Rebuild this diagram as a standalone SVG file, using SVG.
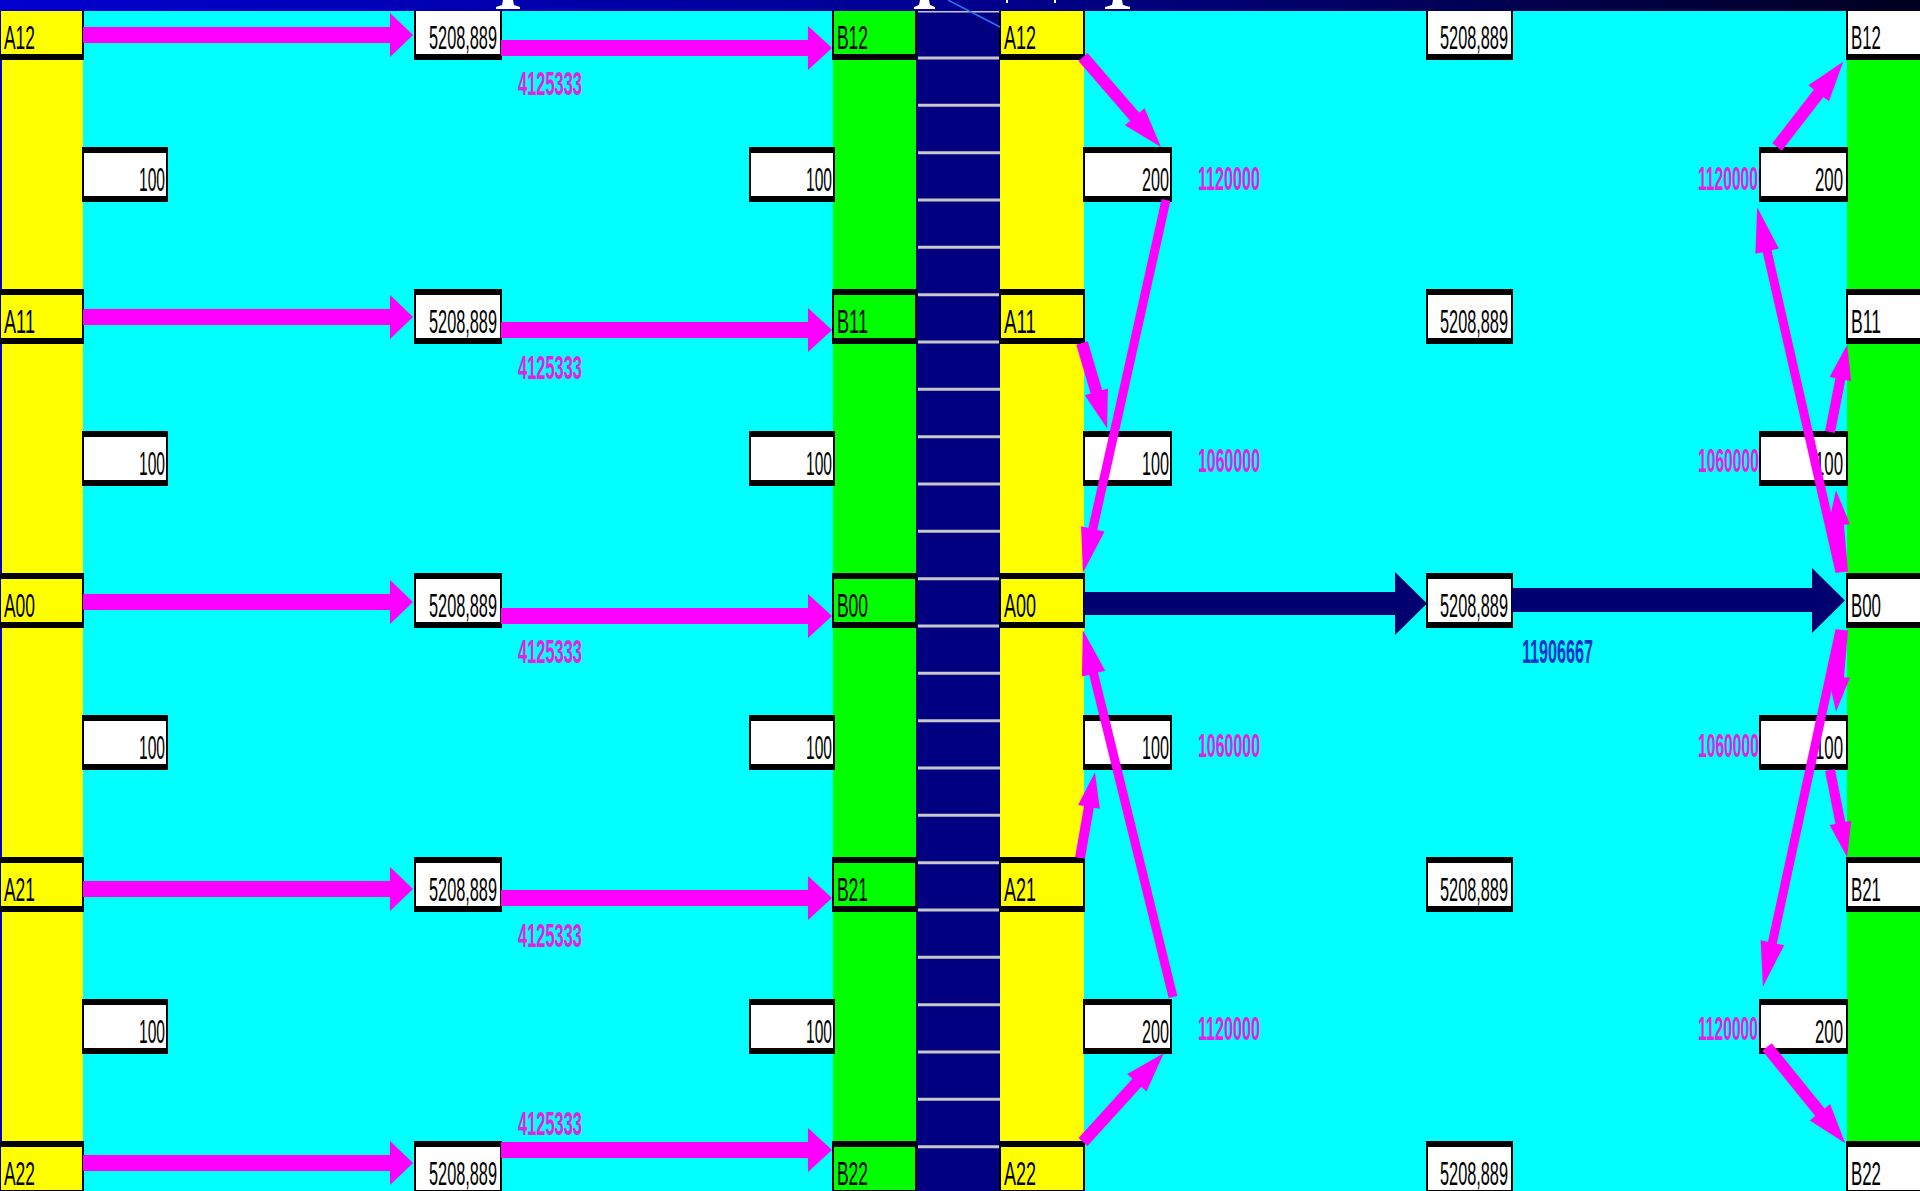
<svg xmlns="http://www.w3.org/2000/svg" width="1920" height="1191" viewBox="0 0 1920 1191">
<defs>
<linearGradient id="title" x1="0" y1="0" x2="1" y2="0">
<stop offset="0" stop-color="#0000d0"/>
<stop offset="0.5" stop-color="#000090"/>
<stop offset="1" stop-color="#000020"/>
</linearGradient>
<style>
.t{font-family:"Liberation Sans",Arial,sans-serif;font-size:33px;fill:#000}
.m{font-family:"Liberation Sans",Arial,sans-serif;font-size:34px;font-weight:bold;fill:#e61ee6}
.b{font-family:"Liberation Sans",Arial,sans-serif;font-size:34px;font-weight:bold;fill:#0033cc}
.bx{stroke:#000;stroke-width:2}
.bd{stroke:#000;stroke-width:5;fill:none}
.w{fill:#ffffff}
.y{fill:#ffff00}
.g{fill:#00ff00}
.ar{fill:#ff00ff}
.nv{fill:#000070}
.gl{stroke:#c8c8c8;stroke-width:3;fill:none}
</style>
</defs>
<g id="background">
<rect x="0" y="0" width="1920" height="1191" fill="#00ffff"/>
<rect x="0" y="0" width="83" height="1191" class="y"/>
<rect x="0" y="0" width="2" height="1191" fill="#0000c0"/>
<rect x="833" y="0" width="83" height="1191" class="g"/>
<rect x="916" y="0" width="84" height="1191" fill="#000080"/>
<rect x="1000" y="0" width="84" height="1191" class="y"/>
<rect x="1847" y="0" width="73" height="1191" class="g"/>
<path class="gl" d="M918 11H1000M918 58H1000M918 105.3H1000M918 152.7H1000M918 200H1000M918 247.3H1000M918 294.7H1000M918 342H1000M918 389.3H1000M918 436.7H1000M918 484H1000M918 531.3H1000M918 578.7H1000M918 626H1000M918 673.3H1000M918 720.7H1000M918 768H1000M918 815.3H1000M918 862.7H1000M918 910H1000M918 957.3H1000M918 1004.7H1000M918 1052H1000M918 1099.3H1000M918 1146.7H1000"/>
</g>

<!-- left panel A labels -->
<g id="L-A12"><rect x="0" y="6" width="83" height="53" class="y bx"/><path class="bd" d="M0 8.5h83M0 56.5h83"/><text class="t" x="4" y="49" textLength="31" lengthAdjust="spacingAndGlyphs">A12</text></g>
<g id="L-A11"><rect x="0" y="290" width="83" height="53" class="y bx"/><path class="bd" d="M0 292.5h83M0 340.5h83"/><text class="t" x="4" y="333" textLength="31" lengthAdjust="spacingAndGlyphs">A11</text></g>
<g id="L-A00"><rect x="0" y="574" width="83" height="53" class="y bx"/><path class="bd" d="M0 576.5h83M0 624.5h83"/><text class="t" x="4" y="617" textLength="31" lengthAdjust="spacingAndGlyphs">A00</text></g>
<g id="L-A21"><rect x="0" y="858" width="83" height="53" class="y bx"/><path class="bd" d="M0 860.5h83M0 908.5h83"/><text class="t" x="4" y="901" textLength="31" lengthAdjust="spacingAndGlyphs">A21</text></g>
<g id="L-A22"><rect x="0" y="1142" width="83" height="53" class="y bx"/><path class="bd" d="M0 1144.5h83M0 1192.5h83"/><text class="t" x="4" y="1185" textLength="31" lengthAdjust="spacingAndGlyphs">A22</text></g>

<!-- left panel 100 boxes -->
<g id="L-c1"><rect x="83" y="148" width="84" height="53" class="w bx"/><path class="bd" d="M83 150.5h84M83 198.5h84"/><text class="t" x="139" y="191" textLength="26" lengthAdjust="spacingAndGlyphs">100</text></g>
<g id="L-c2"><rect x="83" y="432" width="84" height="53" class="w bx"/><path class="bd" d="M83 434.5h84M83 482.5h84"/><text class="t" x="139" y="475" textLength="26" lengthAdjust="spacingAndGlyphs">100</text></g>
<g id="L-c3"><rect x="83" y="716" width="84" height="53" class="w bx"/><path class="bd" d="M83 718.5h84M83 766.5h84"/><text class="t" x="139" y="759" textLength="26" lengthAdjust="spacingAndGlyphs">100</text></g>
<g id="L-c4"><rect x="83" y="1000" width="84" height="53" class="w bx"/><path class="bd" d="M83 1002.5h84M83 1050.5h84"/><text class="t" x="139" y="1043" textLength="26" lengthAdjust="spacingAndGlyphs">100</text></g>

<!-- left panel 5208,889 boxes -->
<g id="L-m1"><rect x="415" y="6" width="86" height="53" class="w bx"/><path class="bd" d="M415 8.5h86M415 56.5h86"/><text class="t" x="429" y="49" textLength="68" lengthAdjust="spacingAndGlyphs">5208,889</text></g>
<g id="L-m2"><rect x="415" y="290" width="86" height="53" class="w bx"/><path class="bd" d="M415 292.5h86M415 340.5h86"/><text class="t" x="429" y="333" textLength="68" lengthAdjust="spacingAndGlyphs">5208,889</text></g>
<g id="L-m3"><rect x="415" y="574" width="86" height="53" class="w bx"/><path class="bd" d="M415 576.5h86M415 624.5h86"/><text class="t" x="429" y="617" textLength="68" lengthAdjust="spacingAndGlyphs">5208,889</text></g>
<g id="L-m4"><rect x="415" y="858" width="86" height="53" class="w bx"/><path class="bd" d="M415 860.5h86M415 908.5h86"/><text class="t" x="429" y="901" textLength="68" lengthAdjust="spacingAndGlyphs">5208,889</text></g>
<g id="L-m5"><rect x="415" y="1142" width="86" height="53" class="w bx"/><path class="bd" d="M415 1144.5h86M415 1192.5h86"/><text class="t" x="429" y="1185" textLength="68" lengthAdjust="spacingAndGlyphs">5208,889</text></g>

<!-- left panel right-side 100 boxes -->
<g id="L-d1"><rect x="750" y="148" width="84" height="53" class="w bx"/><path class="bd" d="M750 150.5h84M750 198.5h84"/><text class="t" x="806" y="191" textLength="26" lengthAdjust="spacingAndGlyphs">100</text></g>
<g id="L-d2"><rect x="750" y="432" width="84" height="53" class="w bx"/><path class="bd" d="M750 434.5h84M750 482.5h84"/><text class="t" x="806" y="475" textLength="26" lengthAdjust="spacingAndGlyphs">100</text></g>
<g id="L-d3"><rect x="750" y="716" width="84" height="53" class="w bx"/><path class="bd" d="M750 718.5h84M750 766.5h84"/><text class="t" x="806" y="759" textLength="26" lengthAdjust="spacingAndGlyphs">100</text></g>
<g id="L-d4"><rect x="750" y="1000" width="84" height="53" class="w bx"/><path class="bd" d="M750 1002.5h84M750 1050.5h84"/><text class="t" x="806" y="1043" textLength="26" lengthAdjust="spacingAndGlyphs">100</text></g>

<!-- left panel B labels -->
<g id="L-B12"><rect x="833" y="6" width="83" height="53" class="g bx"/><path class="bd" d="M833 8.5h83M833 56.5h83"/><text class="t" x="837" y="49" textLength="31" lengthAdjust="spacingAndGlyphs">B12</text></g>
<g id="L-B11"><rect x="833" y="290" width="83" height="53" class="g bx"/><path class="bd" d="M833 292.5h83M833 340.5h83"/><text class="t" x="837" y="333" textLength="31" lengthAdjust="spacingAndGlyphs">B11</text></g>
<g id="L-B00"><rect x="833" y="574" width="83" height="53" class="g bx"/><path class="bd" d="M833 576.5h83M833 624.5h83"/><text class="t" x="837" y="617" textLength="31" lengthAdjust="spacingAndGlyphs">B00</text></g>
<g id="L-B21"><rect x="833" y="858" width="83" height="53" class="g bx"/><path class="bd" d="M833 860.5h83M833 908.5h83"/><text class="t" x="837" y="901" textLength="31" lengthAdjust="spacingAndGlyphs">B21</text></g>
<g id="L-B22"><rect x="833" y="1142" width="83" height="53" class="g bx"/><path class="bd" d="M833 1144.5h83M833 1192.5h83"/><text class="t" x="837" y="1185" textLength="31" lengthAdjust="spacingAndGlyphs">B22</text></g>

<!-- right panel A labels -->
<g id="R-A12"><rect x="1000" y="6" width="84" height="53" class="y bx"/><path class="bd" d="M1000 8.5h84M1000 56.5h84"/><text class="t" x="1004" y="49" textLength="32" lengthAdjust="spacingAndGlyphs">A12</text></g>
<g id="R-A11"><rect x="1000" y="290" width="84" height="53" class="y bx"/><path class="bd" d="M1000 292.5h84M1000 340.5h84"/><text class="t" x="1004" y="333" textLength="32" lengthAdjust="spacingAndGlyphs">A11</text></g>
<g id="R-A00"><rect x="1000" y="574" width="84" height="53" class="y bx"/><path class="bd" d="M1000 576.5h84M1000 624.5h84"/><text class="t" x="1004" y="617" textLength="32" lengthAdjust="spacingAndGlyphs">A00</text></g>
<g id="R-A21"><rect x="1000" y="858" width="84" height="53" class="y bx"/><path class="bd" d="M1000 860.5h84M1000 908.5h84"/><text class="t" x="1004" y="901" textLength="32" lengthAdjust="spacingAndGlyphs">A21</text></g>
<g id="R-A22"><rect x="1000" y="1142" width="84" height="53" class="y bx"/><path class="bd" d="M1000 1144.5h84M1000 1192.5h84"/><text class="t" x="1004" y="1185" textLength="32" lengthAdjust="spacingAndGlyphs">A22</text></g>

<!-- right panel left-side boxes -->
<g id="R-c1"><rect x="1084" y="148" width="87" height="53" class="w bx"/><path class="bd" d="M1084 150.5h87M1084 198.5h87"/><text class="t" x="1142" y="191" textLength="27" lengthAdjust="spacingAndGlyphs">200</text></g>
<g id="R-c2"><rect x="1084" y="432" width="87" height="53" class="w bx"/><path class="bd" d="M1084 434.5h87M1084 482.5h87"/><text class="t" x="1142" y="475" textLength="27" lengthAdjust="spacingAndGlyphs">100</text></g>
<g id="R-c3"><rect x="1084" y="716" width="87" height="53" class="w bx"/><path class="bd" d="M1084 718.5h87M1084 766.5h87"/><text class="t" x="1142" y="759" textLength="27" lengthAdjust="spacingAndGlyphs">100</text></g>
<g id="R-c4"><rect x="1084" y="1000" width="87" height="53" class="w bx"/><path class="bd" d="M1084 1002.5h87M1084 1050.5h87"/><text class="t" x="1142" y="1043" textLength="27" lengthAdjust="spacingAndGlyphs">200</text></g>

<!-- right panel center boxes -->
<g id="R-m1"><rect x="1427" y="6" width="85" height="53" class="w bx"/><path class="bd" d="M1427 8.5h85M1427 56.5h85"/><text class="t" x="1440" y="49" textLength="68" lengthAdjust="spacingAndGlyphs">5208,889</text></g>
<g id="R-m2"><rect x="1427" y="290" width="85" height="53" class="w bx"/><path class="bd" d="M1427 292.5h85M1427 340.5h85"/><text class="t" x="1440" y="333" textLength="68" lengthAdjust="spacingAndGlyphs">5208,889</text></g>
<g id="R-m3"><rect x="1427" y="574" width="85" height="53" class="w bx"/><path class="bd" d="M1427 576.5h85M1427 624.5h85"/><text class="t" x="1440" y="617" textLength="68" lengthAdjust="spacingAndGlyphs">5208,889</text></g>
<g id="R-m4"><rect x="1427" y="858" width="85" height="53" class="w bx"/><path class="bd" d="M1427 860.5h85M1427 908.5h85"/><text class="t" x="1440" y="901" textLength="68" lengthAdjust="spacingAndGlyphs">5208,889</text></g>
<g id="R-m5"><rect x="1427" y="1142" width="85" height="53" class="w bx"/><path class="bd" d="M1427 1144.5h85M1427 1192.5h85"/><text class="t" x="1440" y="1185" textLength="68" lengthAdjust="spacingAndGlyphs">5208,889</text></g>

<!-- right panel right-side boxes -->
<g id="R-d1"><rect x="1760" y="148" width="87" height="53" class="w bx"/><path class="bd" d="M1760 150.5h87M1760 198.5h87"/><text class="t" x="1815" y="191" textLength="28" lengthAdjust="spacingAndGlyphs">200</text></g>
<g id="R-d2"><rect x="1760" y="432" width="87" height="53" class="w bx"/><path class="bd" d="M1760 434.5h87M1760 482.5h87"/><text class="t" x="1815" y="475" textLength="28" lengthAdjust="spacingAndGlyphs">100</text></g>
<g id="R-d3"><rect x="1760" y="716" width="87" height="53" class="w bx"/><path class="bd" d="M1760 718.5h87M1760 766.5h87"/><text class="t" x="1815" y="759" textLength="28" lengthAdjust="spacingAndGlyphs">100</text></g>
<g id="R-d4"><rect x="1760" y="1000" width="87" height="53" class="w bx"/><path class="bd" d="M1760 1002.5h87M1760 1050.5h87"/><text class="t" x="1815" y="1043" textLength="28" lengthAdjust="spacingAndGlyphs">200</text></g>

<!-- right panel B labels -->
<g id="R-B12"><rect x="1847" y="6" width="80" height="53" class="w bx"/><path class="bd" d="M1847 8.5h80M1847 56.5h80"/><text class="t" x="1851" y="49" textLength="30" lengthAdjust="spacingAndGlyphs">B12</text></g>
<g id="R-B11"><rect x="1847" y="290" width="80" height="53" class="w bx"/><path class="bd" d="M1847 292.5h80M1847 340.5h80"/><text class="t" x="1851" y="333" textLength="30" lengthAdjust="spacingAndGlyphs">B11</text></g>
<g id="R-B00"><rect x="1847" y="574" width="80" height="53" class="w bx"/><path class="bd" d="M1847 576.5h80M1847 624.5h80"/><text class="t" x="1851" y="617" textLength="30" lengthAdjust="spacingAndGlyphs">B00</text></g>
<g id="R-B21"><rect x="1847" y="858" width="80" height="53" class="w bx"/><path class="bd" d="M1847 860.5h80M1847 908.5h80"/><text class="t" x="1851" y="901" textLength="30" lengthAdjust="spacingAndGlyphs">B21</text></g>
<g id="R-B22"><rect x="1847" y="1142" width="80" height="53" class="w bx"/><path class="bd" d="M1847 1144.5h80M1847 1192.5h80"/><text class="t" x="1851" y="1185" textLength="30" lengthAdjust="spacingAndGlyphs">B22</text></g>

<g id="connectors">
<!-- left panel: A -> 5208,889 -->
<polygon class="ar" points="83,27 390,27 390,13 413,35 390,57 390,43 83,43"/>
<polygon class="ar" points="83,309 390,309 390,295 413,317 390,339 390,325 83,325"/>
<polygon class="ar" points="83,594 390,594 390,580 413,602 390,624 390,610 83,610"/>
<polygon class="ar" points="83,881 390,881 390,867 413,889 390,911 390,897 83,897"/>
<polygon class="ar" points="83,1155 390,1155 390,1141 413,1163 390,1185 390,1171 83,1171"/>
<!-- left panel: 5208,889 -> B -->
<polygon class="ar" points="501,40 808,40 808,26 832,48 808,70 808,56 501,56"/>
<polygon class="ar" points="501,322 808,322 808,308 832,330 808,352 808,338 501,338"/>
<polygon class="ar" points="501,608 808,608 808,594 832,616 808,638 808,624 501,624"/>
<polygon class="ar" points="501,890 808,890 808,876 832,898 808,920 808,906 501,906"/>
<polygon class="ar" points="501,1142 808,1142 808,1128 832,1150 808,1172 808,1158 501,1158"/>

<!-- right panel navy main flow -->
<polygon class="nv" points="1084,592 1395,592 1395,572 1427,603.5 1395,635 1395,615 1084,615"/>
<polygon class="nv" points="1512,588 1812,588 1812,568 1845,600.5 1812,633 1812,612 1512,612"/>

<!-- right panel left side diagonals -->
<g transform="translate(1083,57) rotate(49.1)"><polygon class="ar" points="0,-6 79,-6 79,-13 119,0 79,13 79,6 0,6"/></g>
<g transform="translate(1166,200) rotate(102.55)"><polygon class="ar" points="0,-4.5 337,-4.5 337,-12 382,0 337,12 337,4.5 0,4.5"/></g>
<g transform="translate(1082,343) rotate(73.6)"><polygon class="ar" points="0,-6 51,-6 51,-12 89,0 51,12 51,6 0,6"/></g>
<g transform="translate(1080,858) rotate(-80.1)"><polygon class="ar" points="0,-5 52,-5 52,-11 87,0 52,11 52,5 0,5"/></g>
<g transform="translate(1173,997) rotate(-103.8)"><polygon class="ar" points="0,-4.5 333,-4.5 333,-12 378,0 333,12 333,4.5 0,4.5"/></g>
<g transform="translate(1083,1142) rotate(-47.7)"><polygon class="ar" points="0,-6 80,-6 80,-13 120,0 80,13 80,6 0,6"/></g>

<!-- right panel right side diagonals -->
<g transform="translate(1840,572) rotate(-102.8)"><polygon class="ar" points="0,-4.5 329,-4.5 329,-12 374,0 329,12 329,4.5 0,4.5"/></g>
<g transform="translate(1777,147) rotate(-52.2)"><polygon class="ar" points="0,-6 68,-6 68,-13 108,0 68,13 68,6 0,6"/></g>
<g transform="translate(1843,572) rotate(-94.9)"><polygon class="ar" points="0,-5 47,-5 47,-11 82,0 47,11 47,5 0,5"/></g>
<g transform="translate(1830,432) rotate(-78.9)"><polygon class="ar" points="0,-5 54,-5 54,-11 89,0 54,11 54,5 0,5"/></g>
<g transform="translate(1840,630) rotate(102.2)"><polygon class="ar" points="0,-4.5 320,-4.5 320,-12 365,0 320,12 320,4.5 0,4.5"/></g>
<g transform="translate(1767,1047) rotate(50.9)"><polygon class="ar" points="0,-6 84,-6 84,-13 124,0 84,13 84,6 0,6"/></g>
<g transform="translate(1843,630) rotate(94.9)"><polygon class="ar" points="0,-5 47,-5 47,-11 82,0 47,11 47,5 0,5"/></g>
<g transform="translate(1830,770) rotate(78.9)"><polygon class="ar" points="0,-5 54,-5 54,-11 89,0 54,11 54,5 0,5"/></g>
</g>

<g id="flow-labels">
<text class="m" x="518" y="95" textLength="64" lengthAdjust="spacingAndGlyphs">4125333</text>
<text class="m" x="518" y="379" textLength="64" lengthAdjust="spacingAndGlyphs">4125333</text>
<text class="m" x="518" y="663" textLength="64" lengthAdjust="spacingAndGlyphs">4125333</text>
<text class="m" x="518" y="947" textLength="64" lengthAdjust="spacingAndGlyphs">4125333</text>
<text class="m" x="518" y="1135" textLength="64" lengthAdjust="spacingAndGlyphs">4125333</text>
<text class="m" x="1198" y="190" textLength="62" lengthAdjust="spacingAndGlyphs">1120000</text>
<text class="m" x="1198" y="472" textLength="62" lengthAdjust="spacingAndGlyphs">1060000</text>
<text class="m" x="1198" y="757" textLength="62" lengthAdjust="spacingAndGlyphs">1060000</text>
<text class="m" x="1198" y="1040" textLength="62" lengthAdjust="spacingAndGlyphs">1120000</text>
<text class="m" transform="translate(1698,190) scale(0.46,1)">1120000</text>
<text class="m" transform="translate(1698,472) scale(0.46,1)">1060000</text>
<text class="m" transform="translate(1698,757) scale(0.46,1)">1060000</text>
<text class="m" transform="translate(1698,1040) scale(0.46,1)">1120000</text>
<text class="b" x="1522" y="663" textLength="71" lengthAdjust="spacingAndGlyphs">11906667</text>
</g>

<g id="title-strip">
<rect x="0" y="0" width="1920" height="11" fill="url(#title)"/>
<polygon fill="#ffffff" points="503,0 513,0 514,5 520,7 520,9 496,9 496,7 502,5"/>
<polygon fill="#ffffff" points="920,0 929,0 930,5 935,7 935,9 914,9 914,7 919,5"/>
<polygon fill="#ffffff" points="1113,0 1122,0 1123,5 1130,7 1130,9 1105,9 1105,7 1112,5"/>
<rect x="1006" y="0" width="2" height="3" fill="#ffffff"/>
<rect x="1054" y="0" width="2" height="3" fill="#ffffff"/>
<line x1="948" y1="0" x2="1000" y2="27" stroke="#3070ff" stroke-width="1.5"/>
</g>
</svg>
